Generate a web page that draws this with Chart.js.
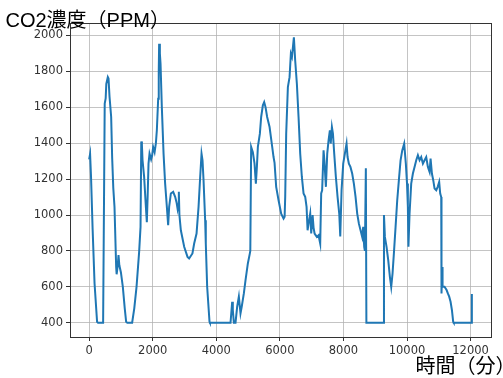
<!DOCTYPE html>
<html>
<head>
<meta charset="utf-8">
<script src="https://cdn.jsdelivr.net/npm/chart.js@4.4.1/dist/chart.umd.min.js"></script>
<style>
  html, body { margin: 0; padding: 0; background: #fff; overflow: hidden; }
  #wrap { position: relative; width: 503px; height: 378px; overflow: hidden; }
  #c { display: block; }
  .lbl { position: absolute; font-family: "Liberation Sans", "Noto Sans CJK JP", sans-serif;
         font-size: 20px; line-height: 20px; color: #000; white-space: nowrap; }
</style>
</head>
<body>
<div id="wrap">
  <canvas id="c" width="503" height="378"></canvas>
  <div class="lbl" style="left:5.5px;top:9.6px">CO2濃度（PPM）</div>
  <div class="lbl" style="left:415.5px;top:356px">時間（分）</div>
</div>
<script>
// time in minutes / CO2 ppm
const timeMin = [
  0, 30, 60, 110, 170, 250, 280, 440, 490, 520, 540, 588, 610, 641, 693, 724, 760, 798, 850, 865,
  900, 924, 950, 1000, 1060, 1120, 1164, 1200, 1353, 1420, 1491, 1573, 1617, 1640, 1660, 1680, 1730, 1785, 1815, 1840,
  1868, 1900, 1950, 1980, 2014, 2060, 2100, 2130, 2172, 2190, 2202, 2225, 2246, 2287, 2341, 2391, 2445, 2486, 2517, 2571,
  2643, 2706, 2750, 2781, 2800, 2822, 2840, 2885, 2990, 3095, 3146, 3250, 3304, 3379, 3442, 3493, 3536, 3567, 3599, 3650,
  3670, 3713, 3787, 3800, 4448, 4500, 4520, 4553, 4605, 4657, 4710, 4762, 4800, 4867, 4920, 4993, 5056, 5070, 5097, 5150,
  5203, 5245, 5277, 5308, 5371, 5412, 5465, 5507, 5549, 5600, 5676, 5759, 5801, 5833, 5884, 5959, 6041, 6117, 6150, 6168,
  6199, 6252, 6305, 6346, 6380, 6441, 6482, 6535, 6588, 6640, 6692, 6745, 6797, 6840, 6872, 6910, 6955, 6986, 7030, 7060,
  7092, 7164, 7217, 7269, 7300, 7330, 7375, 7400, 7448, 7490, 7532, 7573, 7600, 7637, 7670, 7710, 7762, 7815, 7868, 7900,
  7941, 7993, 8045, 8098, 8130, 8171, 8220, 8275, 8328, 8381, 8433, 8486, 8538, 8590, 8622, 8653, 8675, 8705, 8722, 9272,
  9275, 9304, 9356, 9409, 9461, 9503, 9545, 9587, 9640, 9692, 9744, 9797, 9850, 9911, 9963, 10000, 10027, 10045, 10080, 10132,
  10185, 10237, 10290, 10342, 10395, 10447, 10500, 10552, 10604, 10657, 10710, 10741, 10783, 10825, 10867, 10919, 10965, 11012, 11044, 11076,
  11085, 11107, 11118, 11180, 11245, 11285, 11327, 11370, 11412, 11453, 11470, 12020, 12040
];
const co2Ppm = [
  1310, 1340, 1210, 920, 620, 405, 400, 400, 1620, 1650, 1730, 1768, 1760, 1660, 1546, 1320, 1150, 1045, 711, 670,
  720, 777, 720, 680, 600, 480, 405, 400, 400, 480, 600, 795, 934, 1410, 1390, 1305, 1212, 1045, 960, 1100,
  1286, 1342, 1310, 1330, 1379, 1350, 1400, 1472, 1648, 1800, 1954, 1900, 1843, 1601, 1342, 1175, 1045, 943, 1045, 1120,
  1129, 1101, 1070, 1036, 1060, 1130, 1000, 915, 823, 767, 758, 786, 841, 897, 1045, 1212, 1342, 1305, 1194, 971,
  840, 600, 405, 400, 400, 517, 470, 400, 400, 489, 545, 452, 489, 563, 637, 730, 786, 800, 1379, 1350,
  1286, 1175, 1268, 1379, 1453, 1546, 1611, 1629, 1601, 1546, 1490, 1379, 1323, 1290, 1157, 1082, 1008, 980, 990, 1101,
  1453, 1712, 1768, 1898, 1880, 1990, 1861, 1731, 1546, 1342, 1212, 1120, 1101, 1045, 915, 960, 1008, 897, 999, 930,
  897, 878, 887, 841, 1120, 1138, 1360, 1305, 1157, 1342, 1416, 1472, 1398, 1490, 1453, 1342, 1212, 1101, 1008, 880,
  1138, 1286, 1342, 1398, 1323, 1286, 1268, 1231, 1175, 1101, 1008, 952, 915, 878, 934, 823, 800, 1260, 400, 400,
  1000, 878, 823, 749, 656, 600, 675, 786, 934, 1082, 1194, 1305, 1360, 1398, 1286, 1175, 1045, 823, 1008, 1175,
  1231, 1268, 1305, 1333, 1305, 1323, 1286, 1305, 1323, 1268, 1240, 1314, 1231, 1194, 1147, 1138, 1157, 1184, 1120, 1100,
  563, 711, 600, 600, 582, 563, 545, 517, 471, 405, 400, 400, 560
];
const xTicks = [0, 2000, 4000, 6000, 8000, 10000, 12000];
const yTicks = [400, 600, 800, 1000, 1200, 1400, 1600, 1800, 2000];

const tickFont = { family: 'DejaVu Sans', size: 11.5 };

// top/right spines like matplotlib
const frame = {
  id: 'frame',
  afterDatasetsDraw(ch) {
    const { ctx, chartArea: a } = ch;
    ctx.save();
    ctx.strokeStyle = '#333';
    ctx.lineWidth = 1;
    ctx.strokeRect(Math.round(a.left) + 0.5, Math.round(a.top) + 0.5,
      Math.round(a.right - a.left), Math.round(a.bottom - a.top));
    ctx.restore();
  }
};

new Chart(document.getElementById('c'), {
  type: 'line',
  data: {
    datasets: [{
      data: timeMin.map((t, i) => ({ x: t, y: co2Ppm[i] })),
      borderColor: '#1f77b4', borderWidth: 2,
      pointRadius: 0, tension: 0, fill: false
    }]
  },
  options: {
    responsive: false, animation: false,
    layout: { padding: { top: 23, right: 12, left: 0, bottom: 0 } },
    plugins: { legend: { display: false }, tooltip: { enabled: false } },
    scales: {
      x: {
        type: 'linear', min: -602, max: 12642,
        afterBuildTicks: s => { s.ticks = xTicks.map(v => ({ value: v })); },
        afterFit: s => { s.height = 41; },
        ticks: { color: '#333', font: tickFont, padding: 3, maxRotation: 0, autoSkip: false,
                 callback: v => String(v) },
        grid: { color: 'rgba(176,176,176,0.75)', lineWidth: 1, tickLength: 4, tickColor: '#333' },
        border: { display: false }
      },
      y: {
        type: 'linear', min: 320.5, max: 2069.5,
        afterBuildTicks: s => { s.ticks = yTicks.map(v => ({ value: v })); },
        afterFit: s => { s.width = 70; },
        ticks: { color: '#333', font: tickFont, padding: 3, autoSkip: false,
                 callback: v => String(v) },
        grid: { color: 'rgba(176,176,176,0.75)', lineWidth: 1, tickLength: 4, tickColor: '#333' },
        border: { display: false }
      }
    }
  },
  plugins: [frame]
});
</script>
</body>
</html>
